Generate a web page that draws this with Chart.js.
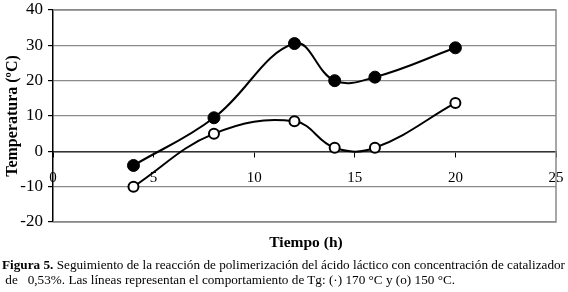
<!DOCTYPE html>
<html><head><meta charset="utf-8">
<script src="https://cdn.jsdelivr.net/npm/chart.js@4"></script>
<style>
html,body{margin:0;padding:0;background:#fff;}
#wrap{position:relative;width:568px;height:292px;overflow:hidden;font-family:"Liberation Serif","Times New Roman",serif;}
canvas{position:absolute;left:0;top:0;}
#xt{position:absolute;left:0;width:612px;top:233px;text-align:center;font-weight:bold;font-size:15.5px;color:#000;}
#cap{position:absolute;left:2px;top:258px;font-size:12.5px;line-height:15px;color:#000;white-space:nowrap;transform-origin:0 0;}
</style></head><body>
<div id="wrap">
<canvas id="c" width="568" height="292"></canvas>
<div id="xt">Tiempo (h)</div>
<div id="cap"><span id="l1"><b>Figura 5.</b> Seguimiento de la reacción de polimerización del ácido láctico con concentración de catalizador</span><br>&nbsp;de &nbsp;&nbsp;0,53%. Las líneas representan el comportamiento de Tg: (·) 170 °C y (o) 150 °C.</div>
</div>
<script>
const tiempo = [4, 8, 12, 14, 16, 20];
const tg170 = [-4, 9.5, 30.5, 20, 21, 29.3];
const tg150 = [-10, 5, 8.5, 1, 1, 13.7];
const yTicks = [-20, -10, 0, 10, 20, 30, 40];
const xTicks = [0, 5, 10, 15, 20, 25];

const toPts = (xs, ys) => xs.map((x, i) => ({x: x, y: ys[i]}));

(function fitCaption(){
  const l1 = document.getElementById('l1');
  const w = l1.getBoundingClientRect().width;
  if (w > 0) document.getElementById('cap').style.transform = 'scaleX(' + (563 / w) + ')';
})();

const borderPlugin = {
  id: 'plotBorder',
  beforeDatasetsDraw(chart) {
    const a = chart.chartArea, ctx = chart.ctx;
    ctx.save();
    ctx.strokeStyle = '#8a8a8a';
    ctx.lineWidth = 1.5;
    ctx.beginPath();
    ctx.moveTo(a.left, a.top); ctx.lineTo(a.right, a.top); ctx.lineTo(a.right, a.bottom); ctx.lineTo(a.left, a.bottom);
    ctx.stroke();
    ctx.restore();
  }
};

new Chart(document.getElementById('c'), {
  type: 'scatter',
  data: {
    datasets: [
      {label: '170 °C', data: toPts(tiempo, tg170), showLine: true, tension: 0.4,
       borderColor: '#000', borderWidth: 2, backgroundColor: '#000',
       pointRadius: 6, pointBackgroundColor: '#000', pointBorderColor: '#000', pointBorderWidth: 1},
      {label: '150 °C', data: toPts(tiempo, tg150), showLine: true, tension: 0.4,
       borderColor: '#000', borderWidth: 2, backgroundColor: '#fff',
       pointRadius: 5, pointBackgroundColor: '#fff', pointBorderColor: '#000', pointBorderWidth: 2}
    ]
  },
  options: {
    responsive: false, animation: false,
    layout: {padding: {left: 3, top: 10, right: 12, bottom: 70}},
    plugins: {legend: {display: false}, tooltip: {enabled: false}},
    scales: {
      x: {
        type: 'linear', position: {y: 0}, min: 0, max: 25,
        afterBuildTicks: (s) => { s.ticks = xTicks.map(v => ({value: v})); },
        afterFit: (s) => { s.paddingLeft = 0; s.paddingRight = 0; s.paddingTop = 0; s.paddingBottom = 0; },
        ticks: {color: '#000', font: {family: 'Liberation Serif', size: 15}, padding: 13},
        grid: {drawOnChartArea: false, drawTicks: true, tickLength: 5, color: '#000'},
        border: {display: true, color: '#333', width: 1.5}
      },
      y: {
        type: 'linear', min: -20, max: 40,
        afterBuildTicks: (s) => { s.ticks = yTicks.map(v => ({value: v})); },
        afterFit: (s) => { s.width = 50; s.paddingTop = 0; s.paddingBottom = 0; s.paddingLeft = 0; s.paddingRight = 0; },
        ticks: {color: '#000', font: {family: 'Liberation Serif', size: 17}, padding: 5},
        grid: {color: '#8a8a8a', lineWidth: 1.2, tickLength: 5, tickColor: '#000', drawTicks: true},
        border: {display: true, color: '#000', width: 1.5},
        title: {display: true, text: 'Temperatura (ºC)', color: '#000', padding: {top: 0, bottom: 1},
                font: {family: 'Liberation Serif', size: 16, weight: 'bold'}}
      }
    }
  },
  plugins: [borderPlugin]
});
</script>
</body></html>
